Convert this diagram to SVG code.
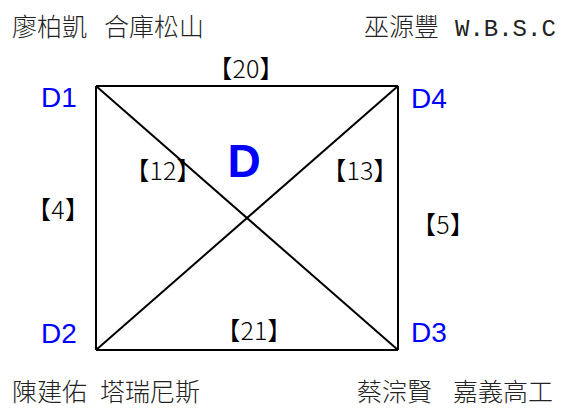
<svg xmlns="http://www.w3.org/2000/svg" width="561" height="409" viewBox="0 0 561 409">
<style>
.cjk{font-family:"Noto Sans CJK TC","Noto Sans CJK SC",sans-serif;font-size:25px;font-weight:300;fill:#222}
.mono{font-family:"Liberation Mono",monospace;font-size:24px;fill:#222}
.lab{font-family:"Liberation Sans",Arial,sans-serif;font-size:28px;fill:#0000ff}
.num{font-family:"Noto Sans CJK TC","Noto Sans CJK SC",sans-serif;font-size:25px;font-weight:300;fill:#000;text-anchor:middle}
.edge{stroke:#000;stroke-width:2;fill:none}
</style>
<rect width="561" height="409" fill="#fff"/>
<g id="header">
<text class="cjk" x="12" y="36">廖柏凱</text>
<text class="cjk" x="104" y="36">合庫松山</text>
<text class="cjk" x="364" y="36">巫源豐</text>
<text class="mono" x="455" y="36">W.B.S.C</text>
</g>
<g id="footer">
<text class="cjk" x="12" y="401">陳建佑</text>
<text class="cjk" x="100" y="401">塔瑞尼斯</text>
<text class="cjk" x="357" y="401">蔡淙賢</text>
<text class="cjk" x="453" y="401">嘉義高工</text>
</g>
<g id="connectors">
<line class="edge" x1="96" y1="86" x2="398" y2="86"/>
<line class="edge" x1="96" y1="350" x2="398" y2="350"/>
<line class="edge" x1="96" y1="86" x2="96" y2="350"/>
<line class="edge" x1="398" y1="86" x2="398" y2="350"/>
<line class="edge" x1="96" y1="86" x2="398" y2="350"/>
<line class="edge" x1="96" y1="350" x2="398" y2="86"/>
</g>
<g id="D1"><text class="lab" x="41" y="107">D1</text></g>
<g id="D2"><text class="lab" x="41" y="343">D2</text></g>
<g id="D3"><text class="lab" x="411" y="342">D3</text></g>
<g id="D4"><text class="lab" x="411" y="108">D4</text></g>
<g id="D"><text x="244" y="177" font-family="Liberation Sans,Arial,sans-serif" font-size="46" font-weight="bold" fill="#0000ff" text-anchor="middle">D</text></g>
<g id="labels">
<text class="num" x="246" y="78">【20】</text>
<text class="num" x="163" y="180">【12】</text>
<text class="num" x="360" y="180">【13】</text>
<text class="num" x="58" y="219">【4】</text>
<text class="num" x="443" y="234">【5】</text>
<text class="num" x="254" y="340">【21】</text>
</g>
</svg>
